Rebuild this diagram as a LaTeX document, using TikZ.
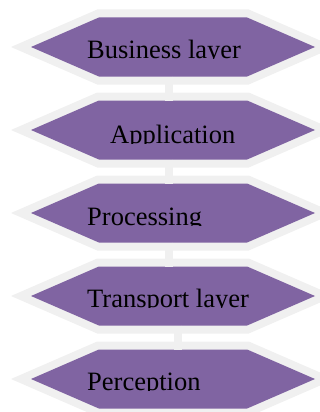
\documentclass[tikz,border=0pt]{standalone}
\usepackage{fontspec}
\setmainfont{Liberation Serif}
\usepackage{xcolor}
\usetikzlibrary{shapes.symbols}
\definecolor{layerfill}{HTML}{8064A2}
\definecolor{layerrim}{HTML}{F0F0F0}
\tikzset{
  layerbox/.style={signal, signal to=west and east, signal pointer angle=47,
                   minimum width=284pt, minimum height=59pt,
                   inner sep=0pt, outer sep=0pt, fill=layerfill,
                   preaction={draw=layerrim, line width=16pt}},
  layertext/.style={anchor=base west, inner sep=0pt, text=black,
                    font=\fontsize{26.5pt}{30pt}\selectfont},
  layerlink/.style={draw=layerrim, line width=8pt}
}

\begin{document}
\begin{tikzpicture}[x=1pt,y=-1pt]
  \useasboundingbox (0,0) rectangle (320,412);
  % the five stacked layers, text cut at its baseline
  \foreach \i/\y/\tx/\base/\name in {1/47/87/59/Business layer,
                                     2/130/110/143/Application,
                                     3/213/87/225/Processing,
                                     4/296/87/307/Transport layer,
                                     5/379/87/390/Perception} {
    \node[layerbox] (layer\i) at (173,\y) {};
    \begin{scope}
      \clip (0,\y-30) rectangle (320,\base);
      \node[layertext] (label\i) at (\tx,\base) {\name};
    \end{scope}
  }
  % links between neighbouring layers
  \draw[layerlink] ([xshift=-4pt]layer1.south) -- ([xshift=-4pt]layer2.north);
  \draw[layerlink] ([xshift=-4pt]layer2.south) -- ([xshift=-4pt]layer3.north);
  \draw[layerlink] ([xshift=-4pt]layer3.south) -- ([xshift=-4pt]layer4.north);
  \draw[layerlink] ([xshift=5pt]layer4.south) -- ([xshift=5pt]layer5.north);
\end{tikzpicture}
\end{document}
